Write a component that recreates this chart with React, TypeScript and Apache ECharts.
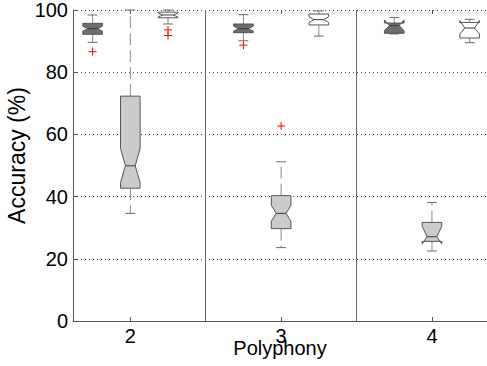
import React, { useEffect, useRef } from "react";
import * as echarts from "echarts";

// Polyphony levels (x categories) and their tick labels
const polyphony = [2, 3, 4];
const tickLabels = ["2", "3", "4"];
const yTicks = [0, 20, 40, 60, 80, 100];

// Box statistics per polyphony level:
// [min, q1, notchLow, median, notchHigh, q3, max]
const darkStats = [
  [89.6, 92.2, 93.2, 94.0, 94.8, 95.7, 98.4],
  [90.1, 92.7, 93.2, 94.0, 94.8, 95.5, 98.5],
  [92.3, 92.5, 93.3, 95.0, 96.8, 95.8, 97.6],
];
const lightStats = [
  [34.6, 42.7, 44.5, 49.9, 55.5, 72.3, 100],
  [23.6, 29.7, 32.1, 34.6, 37.2, 40.3, 51.2],
  [22.5, 25.6, 24.8, 27.1, 30.5, 31.7, 38.1],
];
const whiteStats = [
  [95.5, 97.5, 97.8, 98.4, 99.0, 99.3, 100],
  [91.6, 95.2, 96.0, 96.9, 97.8, 98.7, 99.7],
  [89.5, 91.0, 92.3, 94.2, 96.6, 96.0, 97.0],
];

// Outliers: [polyphony, value]
const darkOutliers = [[2, 86.6], [3, 88.7]];
const lightOutliers = [[3, 62.7]];
const whiteOutliers = [[2, 93.6], [2, 91.8]];

const FONT = "'Liberation Sans', Arial, Helvetica, sans-serif";
const BOX_W = 0.13;

function makeBoxSeries(name: string, stats: number[][], offset: number, fill: string) {
  return {
    type: "custom",
    name,
    data: stats.map((s, i) => [polyphony[i] + offset, ...s]),
    encode: { x: 0, y: [1, 2, 3, 4, 5, 6, 7] },
    renderItem: (params: any, api: any) => {
      const x = api.value(0);
      const mn = api.value(1);
      const q1 = api.value(2);
      const nl = api.value(3);
      const md = api.value(4);
      const nh = api.value(5);
      const q3 = api.value(6);
      const mx = api.value(7);
      const hw = BOX_W / 2;
      const c = (xx: number, yy: number) => api.coord([xx, yy]);
      const L = x - hw,
        R = x + hw,
        Li = x - hw * 0.5,
        Ri = x + hw * 0.5;
      const whisk = { stroke: "#8a8a8a", lineWidth: 1, lineDash: [12, 5] };
      const capStyle = { stroke: "#6a6a6a", lineWidth: 1 };
      const children: any[] = [];
      if (mx > q3) {
        const a = c(x, q3), b = c(x, mx);
        children.push({ type: "line", shape: { x1: a[0], y1: a[1], x2: b[0], y2: b[1] }, style: whisk });
      }
      if (mn < q1) {
        const a = c(x, q1), b = c(x, mn);
        children.push({ type: "line", shape: { x1: a[0], y1: a[1], x2: b[0], y2: b[1] }, style: whisk });
      }
      const ct = c(Li, mx), ct2 = c(Ri, mx);
      children.push({ type: "line", shape: { x1: ct[0], y1: ct[1], x2: ct2[0], y2: ct2[1] }, style: capStyle });
      const cb = c(Li, mn), cb2 = c(Ri, mn);
      children.push({ type: "line", shape: { x1: cb[0], y1: cb[1], x2: cb2[0], y2: cb2[1] }, style: capStyle });
      const pts = [
        c(L, q1), c(L, nl), c(Li, md), c(L, nh), c(L, q3),
        c(R, q3), c(R, nh), c(Ri, md), c(R, nl), c(R, q1),
      ];
      children.push({
        type: "polygon",
        shape: { points: pts },
        style: { fill, stroke: "#555555", lineWidth: 1 },
      });
      const m1 = c(Li, md), m2 = c(Ri, md);
      children.push({
        type: "line",
        shape: { x1: m1[0], y1: m1[1], x2: m2[0], y2: m2[1] },
        style: { stroke: "#3a3a3a", lineWidth: 1 },
      });
      return { type: "group", children };
    },
  };
}

function makeOutlierSeries(name: string, pts: number[][], offset: number) {
  return {
    type: "custom",
    name,
    data: pts.map((p) => [p[0] + offset, p[1]]),
    encode: { x: 0, y: 1 },
    renderItem: (params: any, api: any) => {
      const p = api.coord([api.value(0), api.value(1)]);
      const a = 4;
      const st = { stroke: "#ff0000", lineWidth: 1 };
      return {
        type: "group",
        children: [
          { type: "line", shape: { x1: p[0] - a, y1: p[1], x2: p[0] + a, y2: p[1] }, style: st },
          { type: "line", shape: { x1: p[0], y1: p[1] - a, x2: p[0], y2: p[1] + a }, style: st },
        ],
      };
    },
  };
}

export default function App() {
  const ref = useRef<HTMLDivElement>(null);
  useEffect(() => {
    if (!ref.current) return;
    const chart = echarts.init(ref.current, undefined, { renderer: "svg" });
    const darkBox = makeBoxSeries("dark", darkStats, -0.25, "#6e6e6e");
    (darkBox as any).markLine = {
      silent: true,
      symbol: "none",
      label: { show: false },
      lineStyle: { color: "#666666", type: "solid", width: 1 },
      data: [{ xAxis: 2.5 }, { xAxis: 3.5 }],
    };
    chart.setOption({
      animation: false,
      backgroundColor: "#ffffff",
      textStyle: { fontFamily: FONT },
      grid: { left: 73, right: 0, top: 10, bottom: 45, containLabel: false, outerBoundsMode: "none" },
      xAxis: [
        {
          type: "value",
          min: 1.62,
          max: 4.365,
          name: "Polyphony",
          nameLocation: "middle",
          nameGap: 17,
          nameMoveOverlap: false,
          nameTextStyle: { fontSize: 20, color: "#000", fontFamily: FONT },
          axisLine: { show: true, lineStyle: { color: "#555", width: 1 } },
          axisTick: { show: true, inside: true, length: 4, customValues: polyphony, lineStyle: { color: "#555" } },
          axisLabel: {
            show: true,
            customValues: polyphony,
            formatter: (v: number) => tickLabels[polyphony.indexOf(v)] ?? "",
            fontSize: 20,
            color: "#000",
            margin: 5,
            fontFamily: FONT,
          },
          splitLine: { show: false },
        },
        {
          type: "value",
          position: "top",
          min: 1.62,
          max: 4.365,
          axisLine: { show: false },
          axisTick: { show: true, inside: true, length: 4, customValues: polyphony, lineStyle: { color: "#555" } },
          axisLabel: { show: false },
          splitLine: { show: false },
        },
      ],
      yAxis: {
        type: "value",
        min: 0,
        max: 100,
        interval: 20,
        name: "Accuracy (%)",
        nameLocation: "middle",
        nameGap: 45,
        nameMoveOverlap: false,
        nameRotate: 90,
        nameTextStyle: { fontSize: 23, color: "#000", fontFamily: FONT, padding: [0, 0, 0, 20] },
        axisLine: { show: true, lineStyle: { color: "#555", width: 1 } },
        axisTick: { show: true, inside: true, length: 4, lineStyle: { color: "#555" } },
        axisLabel: {
          fontSize: 20,
          color: "#000",
          margin: 5,
          fontFamily: FONT,
          formatter: (v: number) => (yTicks.includes(v) ? String(v) : ""),
        },
        splitLine: { show: true, lineStyle: { color: "#444", type: [1, 3], width: 1 } },
      },
      series: [
        darkBox,
        makeBoxSeries("light", lightStats, 0, "#cbcbcb"),
        makeBoxSeries("white", whiteStats, 0.25, "#ffffff"),
        makeOutlierSeries("darkOut", darkOutliers, -0.25),
        makeOutlierSeries("lightOut", lightOutliers, 0),
        makeOutlierSeries("whiteOut", whiteOutliers, 0.25),
      ],
    });
    return () => chart.dispose();
  }, []);
  return (
    <div
      ref={ref}
      style={{ position: "fixed", left: 0, top: 0, width: 487, height: 366 }}
    />
  );
}
